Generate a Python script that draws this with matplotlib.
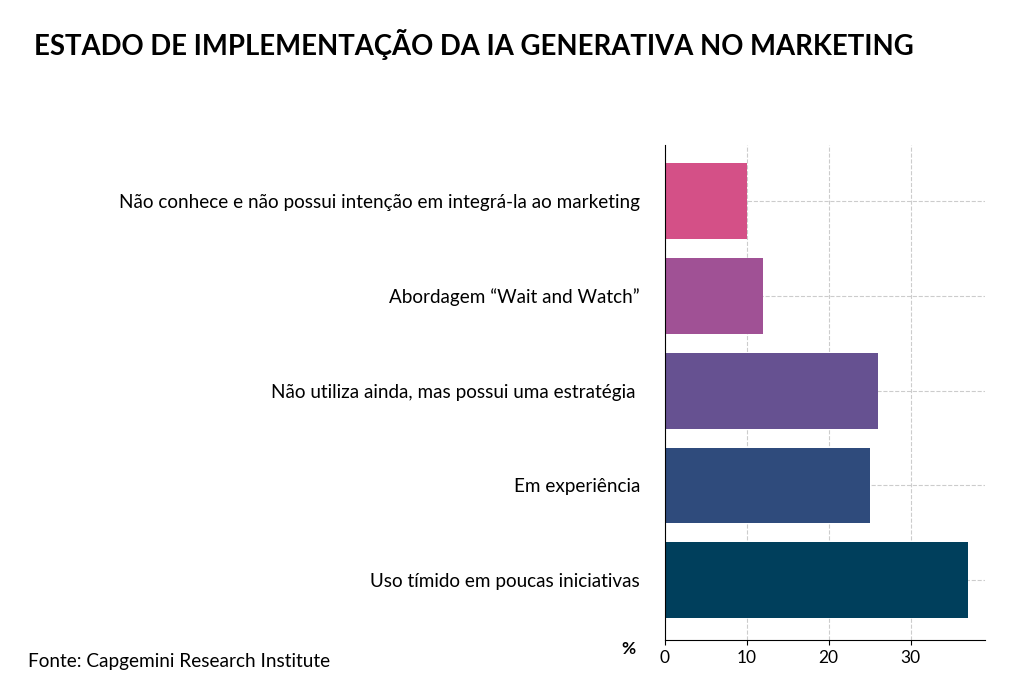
import matplotlib
matplotlib.use("Agg")
import matplotlib.pyplot as plt

categories = ["Uso tímido em poucas iniciativas", "Em experiência",
              "Não utiliza ainda, mas possui uma estratégia ",
              "Abordagem “Wait and Watch”",
              "Não conhece e não possui intenção em integrá-la ao marketing"]
values = [37, 25, 26, 12, 10]
colors = ["#003f5c", "#2f4b7c", "#665191", "#a05195", "#d45087"]
xticks = [0, 10, 20, 30]

plt.rcParams["font.family"] = "Lato"
fig = plt.figure(figsize=(10.24, 6.97), dpi=100)
ax = fig.add_axes([665/1024, 1-640/697, 320/1024, 495/697])
ax.barh(range(len(values)), values, color=colors, height=0.8, zorder=2)
ax.set_yticks(range(len(values)))
ax.set_yticklabels(categories, fontsize=13.6)
ax.set_xticks(xticks)
ax.tick_params(axis="x", labelsize=12.5)
ax.tick_params(axis="y", length=0, pad=18)
ax.set_xlim(0, 39.1)
ax.set_ylim(-0.63, 4.59)
ax.grid(True, linestyle="--", color="#cccccc", linewidth=0.8, zorder=0)
for s in ["top", "right"]:
    ax.spines[s].set_visible(False)
fig.text(34/1024, 1-44/697, "ESTADO DE IMPLEMENTAÇÃO DA IA GENERATIVA NO MARKETING",
         fontsize=19.8, fontweight="bold", va="center")
fig.text(628/1024, 1-649/697, "%", fontsize=12.5, fontweight="bold", ha="center", va="center")
fig.text(28/1024, 1-662/697, "Fonte: Capgemini Research Institute", fontsize=13.7, va="center")
fig.savefig("out.png", dpi=100)
